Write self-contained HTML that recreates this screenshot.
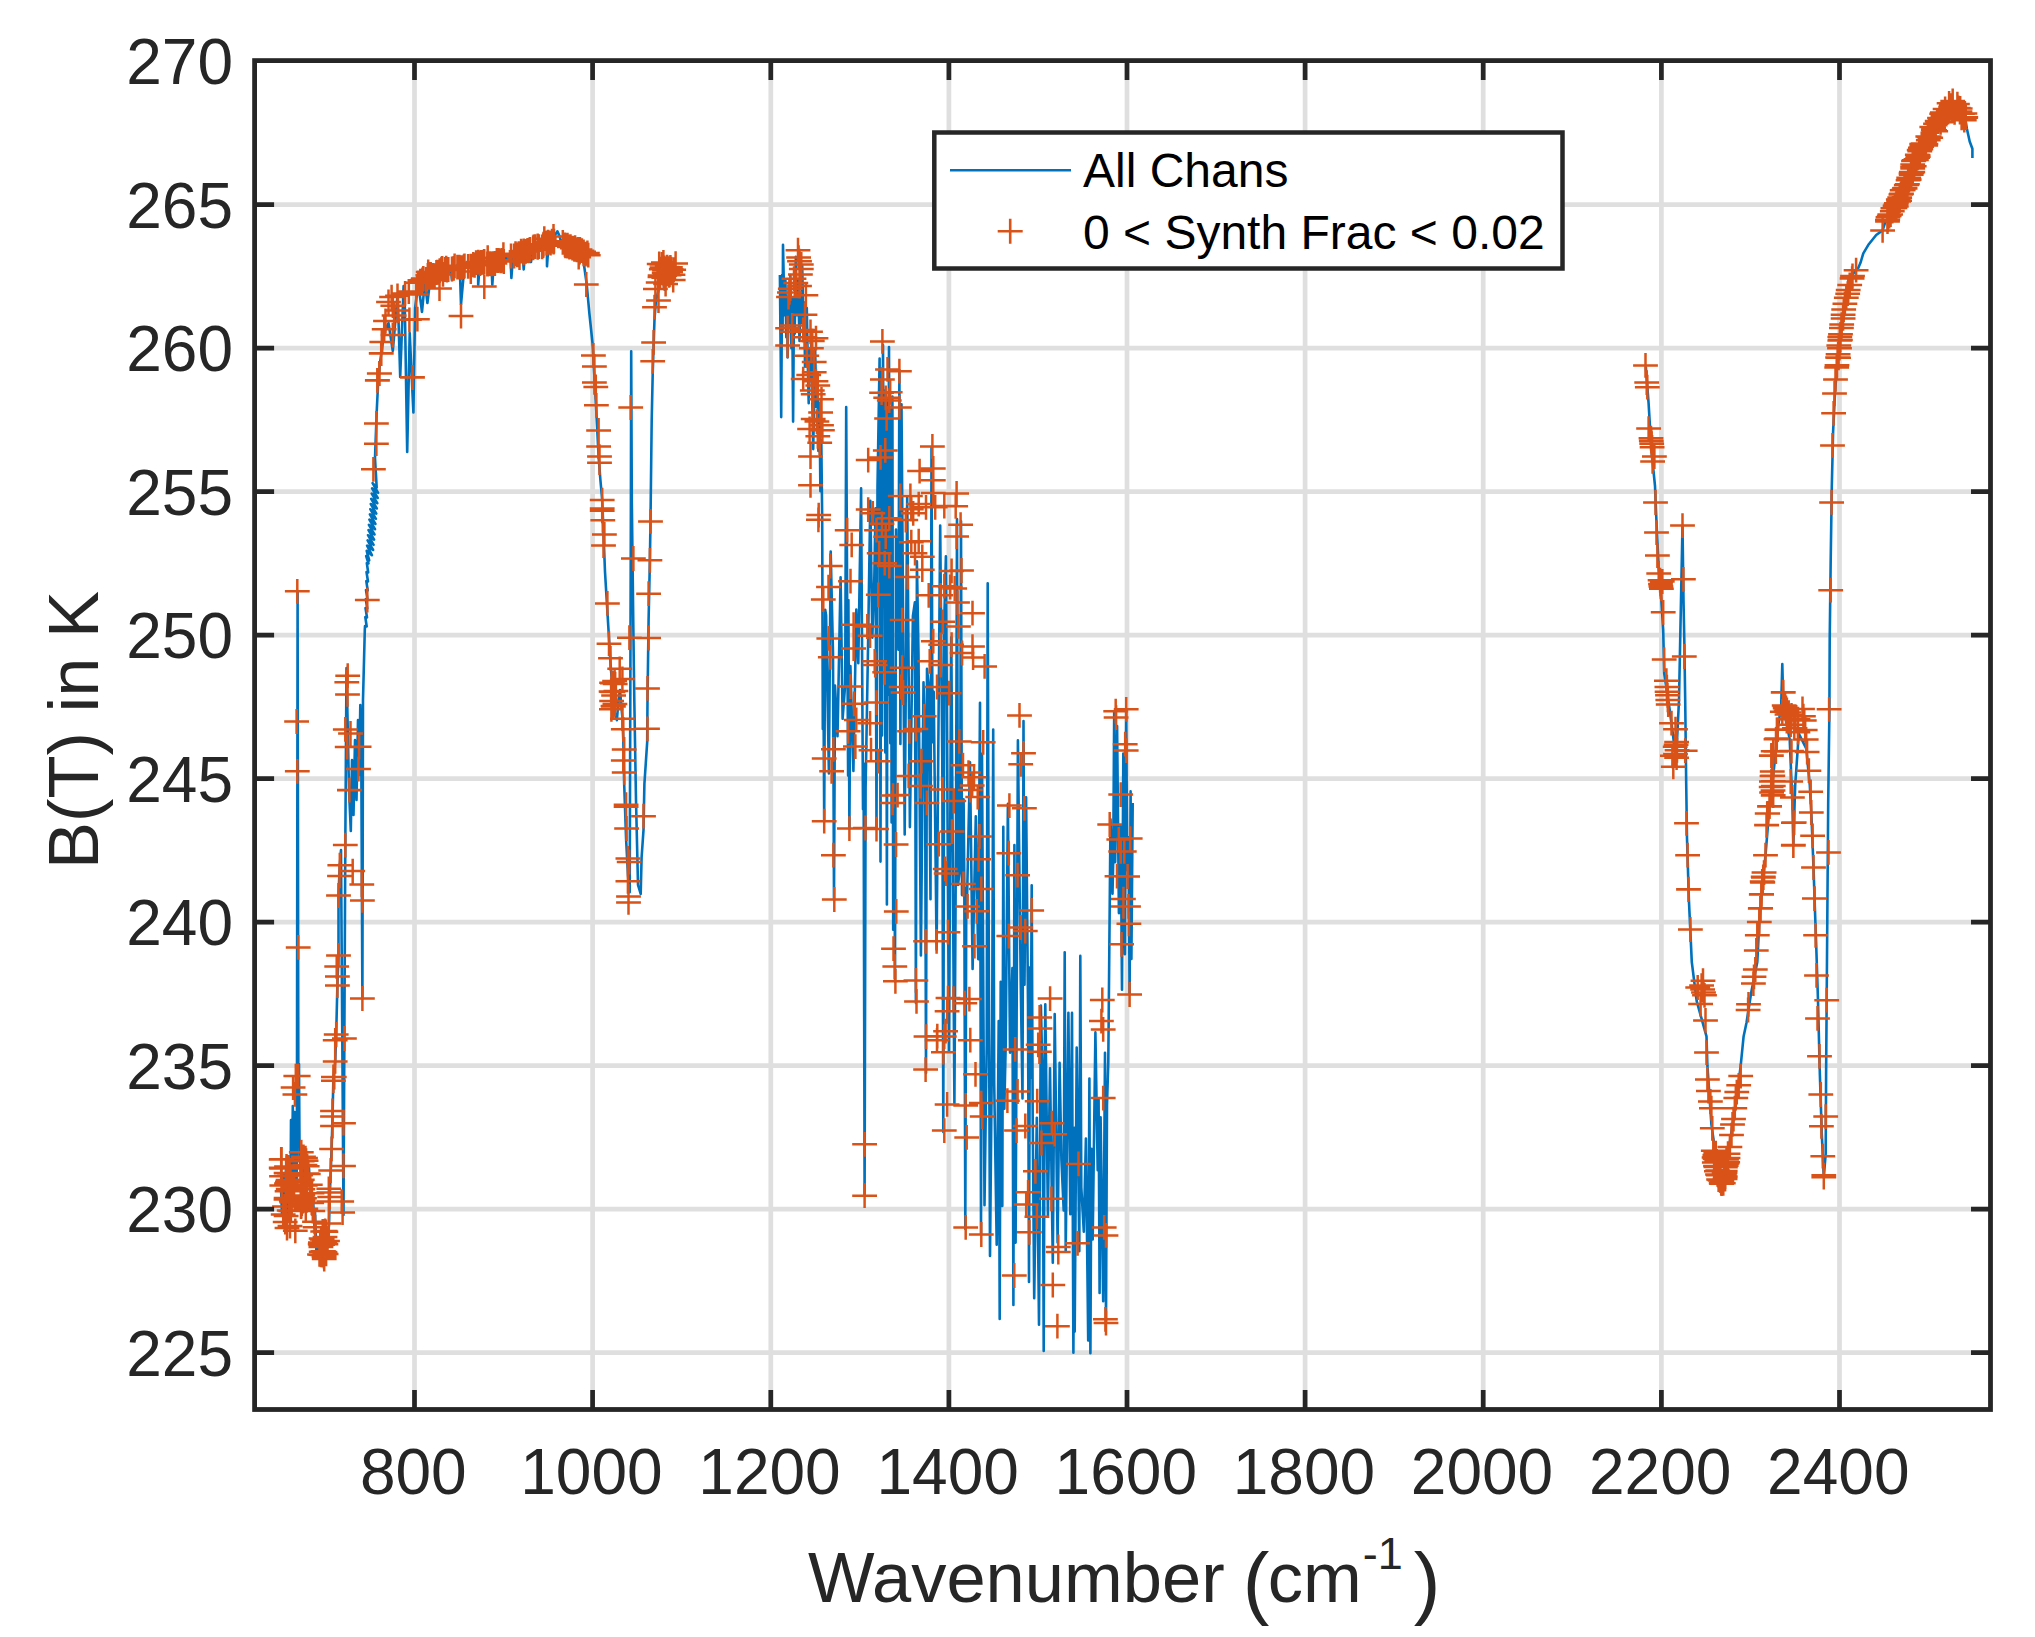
<!DOCTYPE html>
<html><head><meta charset="utf-8"><title>B(T) spectrum</title>
<style>html,body{margin:0;padding:0;background:#fff;overflow:hidden}svg{display:block}</style></head>
<body>
<svg width="2035" height="1637" viewBox="0 0 2035 1637">
<rect width="2035" height="1637" fill="#fff"/>
<path d="M414.5 60.6V1409.5M592.6 60.6V1409.5M770.8 60.6V1409.5M948.9 60.6V1409.5M1127.0 60.6V1409.5M1305.1 60.6V1409.5M1483.2 60.6V1409.5M1661.4 60.6V1409.5M1839.5 60.6V1409.5M254.6 1352.6H1990.5M254.6 1209.1H1990.5M254.6 1065.6H1990.5M254.6 922.1H1990.5M254.6 778.6H1990.5M254.6 635.1H1990.5M254.6 491.6H1990.5M254.6 348.1H1990.5M254.6 204.6H1990.5" stroke="#dfdfdf" stroke-width="4.7" fill="none"/>
<path d="M281.0 1189.0L282.0 1214.0L282.9 1191.9L283.9 1174.8L284.9 1198.4L286.0 1170.0L286.8 1169.8L287.9 1201.8L288.6 1217.1L289.8 1199.7L290.5 1200.0L291.0 1120.0L292.0 1175.0L292.8 1106.0L293.8 1180.0L294.6 1112.0L295.4 1190.0L296.0 1130.0L296.6 1185.0L296.9 1150.0L297.6 591.0L298.4 1120.0L299.0 1064.0L299.6 1160.0L300.3 1162.3L300.9 1184.2L301.5 1164.2L302.2 1154.8L303.0 1179.0L303.9 1183.6L304.8 1182.5L305.7 1180.0L306.4 1211.9L307.0 1157.0L308.5 1185.0L309.0 1168.0L310.5 1200.0L311.0 1182.0L312.5 1215.0L313.0 1198.0L314.5 1228.0L315.0 1212.0L315.8 1234.0L316.5 1254.8L317.7 1241.2L318.6 1240.5L319.4 1252.9L320.4 1255.0L321.4 1257.9L322.6 1233.0L323.5 1256.7L324.6 1258.5L325.6 1234.9L326.7 1253.2L327.6 1235.3L329.0 1225.0L330.0 1190.0L331.6 1149.0L332.5 1118.0L333.4 1078.0L335.2 1061.0L336.2 1034.0L337.4 985.0L338.5 955.0L338.5 895.0L339.8 865.0L341.0 850.0L343.5 1215.0L345.3 845.0L346.5 668.0L349.0 790.0L350.8 831.0L352.0 760.0L353.5 815.0L355.0 740.0L356.5 800.0L358.0 720.0L359.2 775.0L360.3 705.0L361.3 760.0L362.4 998.5L363.0 700.0L364.8 630.0L365.0 626.0L366.7 626.5L365.3 617.0L367.0 617.5L365.5 608.0L367.2 608.5L365.8 599.0L367.5 599.5L366.0 590.0L367.7 590.5L366.3 581.0L368.0 581.5L366.5 572.0L368.2 572.5L366.8 563.0L368.5 563.5L366.2 556.0L369.2 560.4L366.7 550.8L371.9 555.2L367.1 545.6L373.1 550.0L367.6 540.4L373.6 544.8L368.0 535.2L374.1 539.6L368.5 530.0L374.5 534.4L368.9 524.8L375.0 529.2L369.4 519.6L375.4 524.0L369.9 514.4L375.9 518.8L370.3 509.2L376.3 513.6L370.8 504.0L376.8 508.4L371.2 498.8L377.3 503.2L371.7 493.6L377.7 498.0L372.1 488.4L378.1 492.8L372.6 483.2L376.7 487.6L375.0 458.0L376.7 412.0L378.0 385.0L380.0 363.0L383.0 341.0L385.0 330.0L388.5 323.0L392.8 351.0L397.7 293.4L400.2 377.0L403.6 286.0L404.5 286.0L407.2 452.0L409.7 333.0L413.4 412.5L415.1 308.0L418.3 283.5L422.0 312.0L424.9 281.0L427.4 303.0L430.6 276.0L432.0 278.6L434.0 273.2L435.4 272.2L436.7 274.9L437.9 272.7L438.0 272.9L439.5 282.0L441.1 270.8L441.6 268.9L443.5 267.5L445.4 266.7L447.0 266.9L448.5 270.5L450.4 267.8L450.5 266.9L452.0 280.0L453.6 267.3L454.1 265.8L455.7 268.8L457.5 266.7L457.5 264.7L459.7 264.9L461.0 304.4L464.5 265.6L465.0 266.9L466.5 264.2L467.8 263.0L469.6 263.5L471.4 263.9L473.0 266.5L474.7 264.3L476.6 263.7L476.8 262.1L478.1 265.6L478.2 284.8L479.8 263.4L480.3 262.1L481.7 264.4L483.8 261.5L486.0 264.7L487.8 262.2L489.1 260.2L490.7 262.3L491.3 261.0L492.3 284.8L493.9 262.0L494.4 260.7L496.4 262.2L497.9 260.0L499.8 259.2L501.3 261.1L503.3 260.5L504.8 261.5L506.2 256.4L507.7 258.0L508.9 256.1L509.8 257.4L510.5 257.5L511.4 278.0L513.0 256.1L513.5 255.2L515.6 257.5L517.4 255.3L519.2 251.8L520.5 250.7L522.1 252.5L522.6 253.3L523.7 269.4L525.3 251.2L525.8 248.7L527.6 250.3L529.4 249.7L529.6 248.7L531.0 262.0L532.6 248.5L533.1 246.2L534.8 248.9L536.9 248.1L538.8 247.7L541.0 244.7L542.9 246.8L544.9 243.8L545.4 244.1L546.9 245.5L547.0 266.3L548.6 243.2L549.1 243.7L550.7 243.1L552.5 240.1L553.0 243.0L555.0 235.0L557.4 231.3L559.5 236.0L561.0 242.0L561.8 240.5L563.8 241.1L565.4 244.1L565.6 244.1L567.0 245.8L567.0 252.0L568.6 245.5L569.1 246.2L571.2 245.6L572.4 246.4L574.3 246.9L575.7 251.2L577.5 249.9L581.5 255.0L583.9 264.2L586.7 284.0L589.4 313.7L592.5 343.0L595.8 401.6L598.6 456.6L600.4 480.0L602.2 500.0L605.0 571.7L608.3 626.7L610.5 663.3L614.2 711.0L616.9 720.2L618.5 700.0L620.0 690.0L622.4 718.0L623.3 740.0L624.2 784.2L626.1 839.2L628.0 875.0L629.7 892.3L630.3 700.0L630.9 500.0L631.2 351.2L631.8 500.0L633.5 640.0L634.3 700.0L636.0 800.0L638.0 885.0L640.7 894.0L641.6 857.5L643.5 830.0L644.4 784.0L647.2 742.0L647.5 700.0L648.6 620.0L649.9 560.0L650.5 521.0L651.7 420.0L652.7 374.0L654.5 319.0L656.0 300.0L658.2 291.7L660.0 282.0L662.0 275.0L664.6 289.8L666.0 268.0L668.0 275.0L670.0 265.0L672.0 273.0L674.0 267.0L676.0 272.0" fill="none" stroke="#0072BD" stroke-width="2.6" stroke-linejoin="round"/>
<path d="M779.9 275.0L780.6 348.3L780.2 293.3L781.2 417.1L782.1 275.0L782.6 330.0L783.0 244.7L784.5 315.3L785.4 280.5L786.3 337.3L787.0 297.0L787.6 357.5L788.9 289.7L789.6 322.7L790.3 275.0L791.4 348.3L792.2 298.8L793.1 421.6L794.0 298.8L794.7 333.7L795.8 256.7L796.9 315.3L798.0 280.5L799.5 341.0L800.8 293.3L801.5 322.7L802.2 265.8L803.5 330.0L804.3 302.5L805.0 366.7L805.9 322.7L806.8 308.0L807.7 359.3L808.7 403.3L809.9 348.3L810.7 377.7L811.4 337.3L812.3 399.7L813.2 449.1L815.1 348.3L816.4 407.0L817.5 372.2L818.4 451.0L819.5 403.3L820.4 491.3L821.3 440.0L822.2 520.6L822.8 729.1L823.2 641.4L824.2 821.0L825.2 609.8L826.1 615.3L828.9 773.4L830.7 551.5L833.0 652.7L834.0 899.0L835.0 685.6L837.5 736.3L840.6 577.2L842.6 718.8L845.2 684.1L846.2 407.0L847.2 610.1L848.1 775.6L848.4 600.1L849.4 828.6L850.4 666.0L853.4 771.0L856.3 609.6L858.3 663.2L861.1 488.4L863.0 809.3L863.6 763.6L864.6 1196.0L865.6 788.0L868.0 648.7L870.3 500.7L872.3 637.6L874.3 578.5L875.5 508.3L876.5 828.6L877.5 487.1L879.6 358.6L880.5 861.6L881.4 372.1L882.0 735.4L883.0 345.0L884.0 598.8L884.4 390.3L885.3 752.4L885.9 393.0L886.9 904.5L887.7 399.2L888.0 694.6L889.0 347.0L890.0 685.1L890.3 743.3L891.0 407.5L891.6 822.5L892.4 396.6L893.2 929.7L894.0 671.7L895.0 981.6L896.0 529.6L898.4 649.7L899.4 370.0L900.4 743.9L901.5 404.2L904.7 834.5L907.2 497.0L909.9 827.1L912.9 615.9L914.9 602.3L915.9 1003.0L916.9 561.2L918.5 653.9L920.9 955.4L923.5 682.4L925.0 735.5L926.0 1073.0L927.0 668.8L928.6 684.6L930.5 899.3L931.5 447.0L932.5 742.1L933.7 691.7L936.6 949.6L940.2 525.5L942.3 762.8L943.3 1132.0L944.3 619.1L945.9 556.2L949.0 1051.0L951.3 637.2L954.4 1103.3L956.0 830.2L957.0 519.0L958.0 885.0L960.0 867.5L961.0 521.0L962.0 895.1L963.6 799.4L964.3 877.9L965.3 1229.0L966.3 887.7L967.0 900.6L970.0 762.3L972.6 968.9L975.8 816.2L978.2 959.1L980.0 702.8L981.0 1234.6L982.0 753.9L984.5 1205.3L986.7 1045.4L987.7 583.3L988.7 930.1L990.0 1255.9L992.2 1025.4L993.2 729.5L994.2 1082.8L996.7 1244.8L998.7 1021.0L999.7 1319.0L1000.7 981.7L1002.3 1205.9L1003.3 826.7L1004.3 1108.8L1005.7 1045.5L1007.9 803.7L1010.0 1052.6L1012.4 968.0L1013.4 1305.0L1014.4 845.0L1015.6 1242.6L1017.9 740.4L1020.7 980.5L1022.5 1098.4L1023.5 721.0L1024.5 984.7L1026.1 797.2L1028.0 1004.6L1029.0 1282.0L1030.0 967.3L1030.7 1077.8L1031.7 885.3L1032.7 1118.5L1034.2 1298.2L1036.8 1117.7L1039.0 1324.7L1040.9 1005.6L1042.7 1085.5L1043.7 1351.0L1044.7 1064.2L1045.3 1004.2L1047.9 1215.8L1050.0 1068.3L1052.8 1262.7L1054.7 1014.0L1057.6 1242.4L1059.6 1062.9L1061.4 1159.3L1063.7 1210.4L1064.7 952.2L1065.7 1251.1L1068.4 1012.7L1070.3 1214.3L1072.0 1012.9L1072.4 1119.3L1073.4 1352.8L1074.4 1127.9L1074.7 1331.6L1076.7 1047.6L1078.5 1184.0L1079.3 1251.3L1080.3 955.9L1081.3 1187.2L1083.8 1231.6L1085.9 1138.5L1088.2 1340.4L1089.4 1078.6L1090.4 1353.2L1091.4 1148.9L1092.7 1239.5L1095.4 1032.4L1097.7 1170.3L1098.6 1099.4L1099.6 1293.0L1100.6 1117.3L1103.2 1301.2L1105.0 1052.8L1106.0 1321.6L1107.0 1105.2L1108.3 1061.6L1110.5 819.2L1112.5 893.7L1113.2 861.0L1114.2 711.0L1115.2 862.1L1117.1 726.1L1118.9 913.1L1120.7 826.0L1122.0 989.7L1123.3 753.5L1124.9 954.3L1125.2 885.2L1126.2 709.3L1127.2 869.2L1127.6 870.4L1128.6 837.2L1129.6 994.5L1130.6 791.4L1131.4 959.0L1132.7 802.9" fill="none" stroke="#0072BD" stroke-width="2.6" stroke-linejoin="round"/>
<path d="M1645.8 366.7L1648.6 403.3L1651.3 449.2L1655.0 485.8L1656.5 522.5L1658.7 568.3L1661.4 601.3L1663.2 630.0L1664.2 673.3L1669.7 710.0L1673.3 737.5L1676.0 761.3L1679.0 700.0L1681.0 600.0L1682.5 525.6L1683.5 600.0L1684.3 640.0L1685.2 700.0L1686.2 783.3L1687.0 838.3L1688.9 900.0L1691.8 962.1L1696.7 1001.2L1706.5 1036.4L1707.4 1065.7L1711.4 1124.4L1718.2 1173.3L1722.1 1185.0L1728.0 1153.7L1735.8 1104.8L1740.7 1065.7L1743.6 1036.4L1746.5 1022.7L1751.4 991.4L1757.3 962.1L1759.3 922.0L1762.8 882.3L1765.5 855.2L1769.5 806.6L1773.2 775.8L1778.7 722.7L1781.2 705.0L1782.3 664.0L1783.2 700.0L1784.2 711.7L1789.7 739.2L1792.4 803.3L1793.3 845.5L1795.2 785.0L1798.8 733.7L1806.2 748.3L1809.8 785.0L1811.7 821.7L1813.5 867.5L1815.3 920.0L1816.0 938.7L1817.9 997.3L1819.9 1075.5L1821.8 1134.2L1823.8 1177.2L1825.7 1153.7L1826.1 1075.5L1826.7 997.3L1827.3 920.0L1828.2 803.3L1829.4 711.7L1829.7 640.0L1830.7 560.0L1831.8 486.7L1833.1 431.7L1834.9 395.0L1836.7 370.0L1838.6 348.6L1840.4 332.1L1843.2 315.6L1845.9 299.1L1849.6 284.5L1853.2 273.5L1857.8 268.9L1860.6 262.5L1863.3 253.3L1868.8 244.2L1876.2 235.0L1882.6 230.4L1885.3 222.2L1889.0 216.7L1895.4 205.7L1899.1 198.3L1909.2 180.0L1914.7 161.7L1922.9 143.3L1936.7 125.0L1945.8 111.2L1951.3 105.7L1958.7 110.3L1964.2 117.7L1966.0 123.2L1966.9 128.7L1969.7 141.5L1972.4 148.8L1972.4 158.0" fill="none" stroke="#0072BD" stroke-width="2.6" stroke-linejoin="round"/>
<path d="M273.9 1176.1h24.8M286.3 1163.7v24.8M280.3 1188.0h24.8M292.7 1175.6v24.8M278.5 1210.9h24.8M290.9 1198.5v24.8M269.4 1185.6h24.8M281.8 1173.2v24.8M273.7 1172.9h24.8M286.1 1160.5v24.8M274.7 1191.3h24.8M287.1 1178.9v24.8M279.3 1202.3h24.8M291.7 1189.9v24.8M270.8 1214.5h24.8M283.2 1202.1v24.8M275.8 1189.0h24.8M288.2 1176.6v24.8M278.0 1180.0h24.8M290.4 1167.6v24.8M276.8 1197.9h24.8M289.2 1185.5v24.8M279.3 1191.2h24.8M291.7 1178.8v24.8M273.7 1216.1h24.8M286.1 1203.7v24.8M281.7 1189.1h24.8M294.1 1176.7v24.8M276.8 1210.5h24.8M289.2 1198.1v24.8M276.5 1168.1h24.8M288.9 1155.7v24.8M275.0 1181.8h24.8M287.4 1169.4v24.8M272.1 1206.4h24.8M284.5 1194.0v24.8M277.8 1189.2h24.8M290.2 1176.8v24.8M276.3 1167.3h24.8M288.7 1154.9v24.8M277.2 1173.2h24.8M289.6 1160.8v24.8M274.0 1168.4h24.8M286.4 1156.0v24.8M273.7 1198.1h24.8M286.1 1185.7v24.8M273.6 1199.4h24.8M286.0 1187.0v24.8M278.9 1200.9h24.8M291.3 1188.5v24.8M269.1 1176.2h24.8M281.5 1163.8v24.8M274.1 1166.5h24.8M286.5 1154.1v24.8M276.4 1190.1h24.8M288.8 1177.7v24.8M275.7 1179.9h24.8M288.1 1167.5v24.8M274.1 1183.6h24.8M286.5 1171.2v24.8M290.4 1189.3h24.8M302.8 1176.9v24.8M289.0 1197.6h24.8M301.4 1185.2v24.8M288.6 1206.5h24.8M301.0 1194.1v24.8M293.1 1158.1h24.8M305.5 1145.7v24.8M293.7 1160.7h24.8M306.1 1148.3v24.8M289.9 1179.8h24.8M302.3 1167.4v24.8M288.3 1175.2h24.8M300.7 1162.8v24.8M288.3 1186.6h24.8M300.7 1174.2v24.8M293.4 1208.7h24.8M305.8 1196.3v24.8M288.9 1180.4h24.8M301.3 1168.0v24.8M290.4 1195.6h24.8M302.8 1183.2v24.8M290.1 1201.3h24.8M302.5 1188.9v24.8M289.3 1165.6h24.8M301.7 1153.2v24.8M288.9 1206.1h24.8M301.3 1193.7v24.8M294.6 1184.7h24.8M307.0 1172.3v24.8M290.5 1199.7h24.8M302.9 1187.3v24.8M289.4 1203.5h24.8M301.8 1191.1v24.8M294.6 1173.6h24.8M307.0 1161.2v24.8M292.8 1185.5h24.8M305.2 1173.1v24.8M292.1 1198.3h24.8M304.5 1185.9v24.8M290.7 1200.7h24.8M303.1 1188.3v24.8M291.1 1156.8h24.8M303.5 1144.4v24.8M272.8 1222.0h24.8M285.2 1209.6v24.8M277.6 1226.0h24.8M290.0 1213.6v24.8M282.9 1230.8h24.8M295.3 1218.4v24.8M274.6 1228.0h24.8M287.0 1215.6v24.8M269.2 1159.3h24.8M281.6 1146.9v24.8M269.2 1168.5h24.8M281.6 1156.1v24.8M294.8 1166.2h24.8M307.2 1153.8v24.8M295.9 1174.0h24.8M308.3 1161.6v24.8M297.9 1184.7h24.8M310.3 1172.3v24.8M299.6 1193.2h24.8M312.0 1180.8v24.8M299.3 1202.9h24.8M311.7 1190.5v24.8M300.4 1211.1h24.8M312.8 1198.7v24.8M302.1 1221.8h24.8M314.5 1209.4v24.8M302.7 1227.3h24.8M315.1 1214.9v24.8M313.5 1231.8h24.8M325.9 1219.4v24.8M311.8 1259.0h24.8M324.2 1246.6v24.8M313.5 1244.1h24.8M325.9 1231.7v24.8M309.2 1243.6h24.8M321.6 1231.2v24.8M307.8 1243.9h24.8M320.2 1231.5v24.8M310.2 1244.8h24.8M322.6 1232.4v24.8M313.4 1244.2h24.8M325.8 1231.8v24.8M307.1 1254.4h24.8M319.5 1242.0v24.8M308.0 1242.4h24.8M320.4 1230.0v24.8M310.3 1243.2h24.8M322.7 1230.8v24.8M308.2 1244.0h24.8M320.6 1231.6v24.8M315.1 1241.1h24.8M327.5 1228.7v24.8M310.3 1255.0h24.8M322.7 1242.6v24.8M312.4 1252.1h24.8M324.8 1239.7v24.8M312.7 1231.0h24.8M325.1 1218.6v24.8M308.5 1247.0h24.8M320.9 1234.6v24.8M311.8 1256.4h24.8M324.2 1244.0v24.8M311.7 1244.1h24.8M324.1 1231.7v24.8M310.7 1244.3h24.8M323.1 1231.9v24.8M311.2 1251.4h24.8M323.6 1239.0v24.8M309.8 1239.5h24.8M322.2 1227.1v24.8M308.5 1254.8h24.8M320.9 1242.4v24.8M313.7 1253.9h24.8M326.1 1241.5v24.8M312.7 1252.7h24.8M325.1 1240.3v24.8M310.6 1251.3h24.8M323.0 1238.9v24.8M308.1 1244.4h24.8M320.5 1232.0v24.8M308.8 1251.8h24.8M321.2 1239.4v24.8M309.2 1245.1h24.8M321.6 1232.7v24.8M311.6 1256.8h24.8M324.0 1244.4v24.8M308.7 1238.5h24.8M321.1 1226.1v24.8M312.6 1237.1h24.8M325.0 1224.7v24.8M311.7 1241.4h24.8M324.1 1229.0v24.8M310.3 1231.4h24.8M322.7 1219.0v24.8M312.3 1242.0h24.8M324.7 1229.6v24.8M283.4 1076.1h24.8M295.8 1063.7v24.8M280.7 1087.6h24.8M293.1 1075.2v24.8M282.5 1094.4h24.8M294.9 1082.0v24.8M323.8 1034.5h24.8M336.2 1022.1v24.8M332.0 1038.5h24.8M344.4 1026.1v24.8M322.8 1061.4h24.8M335.2 1049.0v24.8M321.0 1077.0h24.8M333.4 1064.6v24.8M321.0 1080.7h24.8M333.4 1068.3v24.8M320.1 1110.9h24.8M332.5 1098.5v24.8M320.1 1116.4h24.8M332.5 1104.0v24.8M331.1 1123.2h24.8M343.5 1110.8v24.8M320.1 1126.1h24.8M332.5 1113.7v24.8M319.2 1148.9h24.8M331.6 1136.5v24.8M331.1 1165.9h24.8M343.5 1153.5v24.8M318.3 1170.5h24.8M330.7 1158.1v24.8M316.4 1188.8h24.8M328.8 1176.4v24.8M316.4 1192.5h24.8M328.8 1180.1v24.8M317.3 1197.1h24.8M329.7 1184.7v24.8M316.4 1201.6h24.8M328.8 1189.2v24.8M330.2 1212.6h24.8M342.6 1200.2v24.8M316.4 1223.6h24.8M328.8 1211.2v24.8M329.3 1201.6h24.8M341.7 1189.2v24.8M268.8 1159.5h24.8M281.2 1147.1v24.8M268.8 1167.7h24.8M281.2 1155.3v24.8M288.9 1152.2h24.8M301.3 1139.8v24.8M289.8 1161.3h24.8M302.2 1148.9v24.8M292.6 1165.0h24.8M305.0 1152.6v24.8M337.0 790.1h24.8M349.4 777.7v24.8M332.9 845.1h24.8M345.3 832.7v24.8M327.4 865.2h24.8M339.8 852.8v24.8M327.1 875.9h24.8M339.5 863.5v24.8M340.3 871.1h24.8M352.7 858.7v24.8M349.4 884.5h24.8M361.8 872.1v24.8M326.1 895.5h24.8M338.5 883.1v24.8M350.0 900.4h24.8M362.4 888.0v24.8M285.8 947.4h24.8M298.2 935.0v24.8M326.1 955.4h24.8M338.5 943.0v24.8M324.3 966.6h24.8M336.7 954.2v24.8M325.0 976.5h24.8M337.4 964.1v24.8M325.0 985.5h24.8M337.4 973.1v24.8M350.0 998.5h24.8M362.4 986.1v24.8M323.8 1034.4h24.8M336.2 1022.0v24.8M332.0 1038.5h24.8M344.4 1026.1v24.8M322.8 1040.3h24.8M335.2 1027.9v24.8M322.8 1061.4h24.8M335.2 1049.0v24.8M285.8 1076.1h24.8M298.2 1063.7v24.8M321.9 1077.0h24.8M334.3 1064.6v24.8M335.3 675.7h24.8M347.7 663.3v24.8M334.4 682.3h24.8M346.8 669.9v24.8M335.1 694.4h24.8M347.5 682.0v24.8M332.9 729.4h24.8M345.3 717.0v24.8M338.1 733.4h24.8M350.5 721.0v24.8M334.8 747.1h24.8M347.2 734.7v24.8M346.7 746.8h24.8M359.1 734.4v24.8M346.1 769.1h24.8M358.5 756.7v24.8M337.0 790.2h24.8M349.4 777.8v24.8M354.9 600.1h24.8M367.3 587.7v24.8M284.9 591.3h24.8M297.3 578.9v24.8M284.2 721.5h24.8M296.6 709.1v24.8M284.9 771.3h24.8M297.3 758.9v24.8M361.0 469.3h24.8M373.4 456.9v24.8M364.0 443.7h24.8M376.4 431.3v24.8M364.0 423.5h24.8M376.4 411.1v24.8M364.9 380.4h24.8M377.3 368.0v24.8M367.1 373.6h24.8M379.5 361.2v24.8M368.9 353.5h24.8M381.3 341.1v24.8M369.8 341.9h24.8M382.2 329.5v24.8M400.1 377.3h24.8M412.5 364.9v24.8M448.6 316.1h24.8M461.0 303.7v24.8M471.9 286.6h24.8M484.3 274.2v24.8M427.1 288.5h24.8M439.5 276.1v24.8M573.9 284.5h24.8M586.3 272.1v24.8M385.1 295.8h24.8M397.5 283.4v24.8M379.2 297.1h24.8M391.6 284.7v24.8M376.1 302.0h24.8M388.5 289.6v24.8M380.4 305.7h24.8M392.8 293.3v24.8M381.7 315.5h24.8M394.1 303.1v24.8M373.1 321.0h24.8M385.5 308.6v24.8M371.8 329.2h24.8M384.2 316.8v24.8M380.4 335.1h24.8M392.8 322.7v24.8M369.4 341.9h24.8M381.8 329.5v24.8M368.8 353.3h24.8M381.2 340.9v24.8M366.9 373.5h24.8M379.3 361.1v24.8M365.1 380.3h24.8M377.5 367.9v24.8M400.1 377.5h24.8M412.5 365.1v24.8M397.0 319.8h24.8M409.4 307.4v24.8M405.0 319.2h24.8M417.4 306.8v24.8M403.8 294.6h24.8M416.2 282.2v24.8M396.4 291.5h24.8M408.8 279.1v24.8M392.7 293.4h24.8M405.1 281.0v24.8M385.3 310.6h24.8M397.7 298.2v24.8M405.8 282.8h24.8M418.2 270.4v24.8M407.9 281.2h24.8M420.3 268.8v24.8M407.9 281.4h24.8M420.3 269.0v24.8M409.2 281.3h24.8M421.6 268.9v24.8M410.0 279.9h24.8M422.4 267.5v24.8M410.9 278.5h24.8M423.3 266.1v24.8M414.0 280.3h24.8M426.4 267.9v24.8M413.7 279.3h24.8M426.1 266.9v24.8M415.9 276.2h24.8M428.3 263.8v24.8M415.4 275.3h24.8M427.8 262.9v24.8M418.2 276.0h24.8M430.6 263.6v24.8M418.3 274.3h24.8M430.7 261.9v24.8M422.2 275.6h24.8M434.6 263.2v24.8M420.7 275.5h24.8M433.1 263.1v24.8M424.0 272.5h24.8M436.4 260.1v24.8M424.8 272.2h24.8M437.2 259.8v24.8M425.3 272.3h24.8M437.7 259.9v24.8M427.3 270.7h24.8M439.7 258.3v24.8M429.0 269.2h24.8M441.4 256.8v24.8M429.8 268.3h24.8M442.2 255.9v24.8M432.7 269.5h24.8M445.1 257.1v24.8M433.8 268.2h24.8M446.2 255.8v24.8M434.6 270.0h24.8M447.0 257.6v24.8M435.9 269.5h24.8M448.3 257.1v24.8M439.6 269.0h24.8M452.0 256.6v24.8M441.3 268.3h24.8M453.7 255.9v24.8M442.2 265.8h24.8M454.6 253.4v24.8M445.0 267.2h24.8M457.4 254.8v24.8M446.9 267.1h24.8M459.3 254.7v24.8M449.2 267.7h24.8M461.6 255.3v24.8M451.5 266.6h24.8M463.9 254.2v24.8M452.1 265.8h24.8M464.5 253.4v24.8M455.7 266.3h24.8M468.1 253.9v24.8M458.4 266.2h24.8M470.8 253.8v24.8M460.9 264.8h24.8M473.3 252.4v24.8M460.9 264.4h24.8M473.3 252.0v24.8M462.2 265.3h24.8M474.6 252.9v24.8M463.7 262.7h24.8M476.1 250.3v24.8M465.9 262.1h24.8M478.3 249.7v24.8M467.7 263.5h24.8M480.1 251.1v24.8M468.6 262.5h24.8M481.0 250.1v24.8M470.6 262.4h24.8M483.0 250.0v24.8M471.6 261.3h24.8M484.0 248.9v24.8M471.9 261.7h24.8M484.3 249.3v24.8M474.9 264.0h24.8M487.3 251.6v24.8M475.7 264.2h24.8M488.1 251.8v24.8M477.5 263.7h24.8M489.9 251.3v24.8M479.1 263.8h24.8M491.5 251.4v24.8M480.4 263.6h24.8M492.8 251.2v24.8M482.5 263.5h24.8M494.9 251.1v24.8M484.4 260.4h24.8M496.8 248.0v24.8M485.3 260.6h24.8M497.7 248.2v24.8M486.1 260.3h24.8M498.5 247.9v24.8M488.4 260.9h24.8M500.8 248.5v24.8M489.4 260.4h24.8M501.8 248.0v24.8M491.4 261.5h24.8M503.8 249.1v24.8M498.6 256.0h24.8M511.0 243.6v24.8M501.7 256.0h24.8M514.1 243.6v24.8M503.1 253.7h24.8M515.5 241.3v24.8M504.7 254.8h24.8M517.1 242.4v24.8M506.3 253.7h24.8M518.7 241.3v24.8M507.0 254.3h24.8M519.4 241.9v24.8M508.7 251.2h24.8M521.1 238.8v24.8M511.2 252.9h24.8M523.6 240.5v24.8M511.4 250.9h24.8M523.8 238.5v24.8M513.5 251.4h24.8M525.9 239.0v24.8M515.1 250.5h24.8M527.5 238.1v24.8M517.3 249.7h24.8M529.7 237.3v24.8M516.6 250.8h24.8M529.0 238.4v24.8M517.6 249.4h24.8M530.0 237.0v24.8M520.7 247.8h24.8M533.1 235.4v24.8M521.3 246.8h24.8M533.7 234.4v24.8M522.6 246.7h24.8M535.0 234.3v24.8M525.3 246.0h24.8M537.7 233.6v24.8M525.3 247.3h24.8M537.7 234.9v24.8M526.5 246.6h24.8M538.9 234.2v24.8M529.8 246.8h24.8M542.2 234.4v24.8M530.8 245.7h24.8M543.2 233.3v24.8M531.1 244.2h24.8M543.5 231.8v24.8M534.6 243.0h24.8M547.0 230.6v24.8M534.2 243.2h24.8M546.6 230.8v24.8M535.7 242.2h24.8M548.1 229.8v24.8M538.2 243.0h24.8M550.6 230.6v24.8M539.6 241.2h24.8M552.0 228.8v24.8M541.6 241.2h24.8M554.0 228.8v24.8M541.2 242.0h24.8M553.6 229.6v24.8M550.4 242.3h24.8M562.8 229.9v24.8M552.5 244.8h24.8M564.9 232.4v24.8M553.0 245.8h24.8M565.4 233.4v24.8M555.1 245.1h24.8M567.5 232.7v24.8M557.0 247.0h24.8M569.4 234.6v24.8M558.1 246.6h24.8M570.5 234.2v24.8M560.0 248.2h24.8M572.4 235.8v24.8M561.7 248.3h24.8M574.1 235.9v24.8M562.0 249.3h24.8M574.4 236.9v24.8M562.7 247.7h24.8M575.1 235.3v24.8M565.6 249.4h24.8M578.0 237.0v24.8M564.5 249.9h24.8M576.9 237.5v24.8M567.6 249.4h24.8M580.0 237.0v24.8M567.3 252.0h24.8M579.7 239.6v24.8M569.5 250.7h24.8M581.9 238.3v24.8M571.3 253.9h24.8M583.7 241.5v24.8M571.2 251.8h24.8M583.6 239.4v24.8M573.1 254.1h24.8M585.5 241.7v24.8M575.0 253.0h24.8M587.4 240.6v24.8M575.9 255.2h24.8M588.3 242.8v24.8M491.0 254.7h24.8M503.4 242.3v24.8M415.8 271.9h24.8M428.2 259.5v24.8M430.6 274.4h24.8M443.0 262.0v24.8M458.4 271.5h24.8M470.8 259.1v24.8M475.3 257.7h24.8M487.7 245.3v24.8M507.1 257.6h24.8M519.5 245.2v24.8M531.9 238.7h24.8M544.3 226.3v24.8M541.1 236.4h24.8M553.5 224.0v24.8M566.3 257.2h24.8M578.7 244.8v24.8M581.0 355.5h24.8M593.4 343.1v24.8M582.0 366.5h24.8M594.4 354.1v24.8M582.0 382.4h24.8M594.4 370.0v24.8M583.4 387.0h24.8M595.8 374.6v24.8M584.0 405.3h24.8M596.4 392.9v24.8M586.2 430.4h24.8M598.6 418.0v24.8M586.2 446.6h24.8M598.6 434.2v24.8M587.1 456.6h24.8M599.5 444.2v24.8M587.1 462.7h24.8M599.5 450.3v24.8M589.8 500.1h24.8M602.2 487.7v24.8M618.3 407.5h24.8M630.7 395.1v24.8M640.3 361.3h24.8M652.7 348.9v24.8M641.2 342.4h24.8M653.6 330.0v24.8M642.1 307.2h24.8M654.5 294.8v24.8M646.1 300.5h24.8M658.5 288.1v24.8M643.0 288.9h24.8M655.4 276.5v24.8M663.2 263.6h24.8M675.6 251.2v24.8M661.3 269.7h24.8M673.7 257.3v24.8M660.8 280.1h24.8M673.2 267.7v24.8M647.6 277.0h24.8M660.0 264.6v24.8M645.8 282.5h24.8M658.2 270.1v24.8M655.1 273.9h24.8M667.5 261.5v24.8M658.0 267.3h24.8M670.4 254.9v24.8M652.6 273.1h24.8M665.0 260.7v24.8M658.6 269.8h24.8M671.0 257.4v24.8M649.6 264.5h24.8M662.0 252.1v24.8M648.9 269.2h24.8M661.3 256.8v24.8M658.7 269.2h24.8M671.1 256.8v24.8M647.7 275.4h24.8M660.1 263.0v24.8M651.0 262.5h24.8M663.4 250.1v24.8M651.8 272.8h24.8M664.2 260.4v24.8M656.6 275.3h24.8M669.0 262.9v24.8M653.3 274.4h24.8M665.7 262.0v24.8M660.6 274.8h24.8M673.0 262.4v24.8M646.8 264.0h24.8M659.2 251.6v24.8M652.1 270.0h24.8M664.5 257.6v24.8M654.8 267.1h24.8M667.2 254.7v24.8M653.2 284.0h24.8M665.6 271.6v24.8M658.2 272.1h24.8M670.6 259.7v24.8M649.6 267.6h24.8M662.0 255.2v24.8M652.1 268.0h24.8M664.5 255.6v24.8M654.4 269.5h24.8M666.8 257.1v24.8M652.3 275.8h24.8M664.7 263.4v24.8M656.3 270.9h24.8M668.7 258.5v24.8M657.2 274.7h24.8M669.6 262.3v24.8M651.4 277.7h24.8M663.8 265.3v24.8M657.1 268.6h24.8M669.5 256.2v24.8M589.8 508.4h24.8M602.2 496.0v24.8M589.8 510.8h24.8M602.2 498.4v24.8M590.4 520.3h24.8M602.8 507.9v24.8M592.0 534.4h24.8M604.4 522.0v24.8M591.1 545.6h24.8M603.5 533.2v24.8M595.0 603.4h24.8M607.4 591.0v24.8M621.0 558.5h24.8M633.4 546.1v24.8M637.5 560.3h24.8M649.9 547.9v24.8M638.1 521.4h24.8M650.5 509.0v24.8M636.2 593.7h24.8M648.6 581.3v24.8M596.6 643.7h24.8M609.0 631.3v24.8M617.0 637.7h24.8M629.4 625.3v24.8M636.2 638.0h24.8M648.6 625.6v24.8M598.1 658.2h24.8M610.5 645.8v24.8M607.3 668.8h24.8M619.7 656.4v24.8M610.0 678.9h24.8M622.4 666.5v24.8M610.0 718.7h24.8M622.4 706.3v24.8M610.9 729.3h24.8M623.3 716.9v24.8M635.1 688.4h24.8M647.5 676.0v24.8M635.1 728.8h24.8M647.5 716.4v24.8M611.8 749.5h24.8M624.2 737.1v24.8M610.9 760.5h24.8M623.3 748.1v24.8M611.8 772.4h24.8M624.2 760.0v24.8M600.6 706.1h24.8M613.0 693.7v24.8M599.2 682.8h24.8M611.6 670.4v24.8M599.2 701.0h24.8M611.6 688.6v24.8M602.8 684.1h24.8M615.2 671.7v24.8M601.0 706.5h24.8M613.4 694.1v24.8M602.2 681.1h24.8M614.6 668.7v24.8M600.0 683.3h24.8M612.4 670.9v24.8M599.3 691.8h24.8M611.7 679.4v24.8M599.0 709.3h24.8M611.4 696.9v24.8M601.2 695.4h24.8M613.6 683.0v24.8M602.5 704.1h24.8M614.9 691.7v24.8M603.5 691.1h24.8M615.9 678.7v24.8M600.6 692.0h24.8M613.0 679.6v24.8M598.7 691.6h24.8M611.1 679.2v24.8M613.7 804.7h24.8M626.1 792.3v24.8M613.7 806.7h24.8M626.1 794.3v24.8M631.1 816.2h24.8M643.5 803.8v24.8M614.2 828.5h24.8M626.6 816.1v24.8M615.5 858.4h24.8M627.9 846.0v24.8M616.8 862.1h24.8M629.2 849.7v24.8M615.5 881.3h24.8M627.9 868.9v24.8M616.1 896.5h24.8M628.5 884.1v24.8M616.1 902.4h24.8M628.5 890.0v24.8M785.6 250.2h24.8M798.0 237.8v24.8M786.2 257.6h24.8M798.6 245.2v24.8M788.9 264.5h24.8M801.3 252.1v24.8M788.9 268.9h24.8M801.3 256.5v24.8M788.0 274.4h24.8M800.4 262.0v24.8M783.4 282.9h24.8M795.8 270.5v24.8M777.9 288.7h24.8M790.3 276.3v24.8M777.0 292.4h24.8M789.4 280.0v24.8M776.1 297.0h24.8M788.5 284.6v24.8M793.5 295.2h24.8M805.9 282.8v24.8M792.6 314.8h24.8M805.0 302.4v24.8M779.8 325.4h24.8M792.2 313.0v24.8M775.2 328.2h24.8M787.6 315.8v24.8M790.8 330.0h24.8M803.2 317.6v24.8M798.1 331.8h24.8M810.5 319.4v24.8M803.6 338.2h24.8M816.0 325.8v24.8M775.2 345.6h24.8M787.6 333.2v24.8M794.4 355.7h24.8M806.8 343.3v24.8M801.8 362.1h24.8M814.2 349.7v24.8M796.3 374.9h24.8M808.7 362.5v24.8M790.8 379.1h24.8M803.2 366.7v24.8M803.6 381.3h24.8M816.0 368.9v24.8M805.4 385.5h24.8M817.8 373.1v24.8M799.9 390.5h24.8M812.3 378.1v24.8M800.8 394.2h24.8M813.2 381.8v24.8M809.1 399.3h24.8M821.5 386.9v24.8M808.2 412.5h24.8M820.6 400.1v24.8M800.8 418.9h24.8M813.2 406.5v24.8M809.1 425.3h24.8M821.5 412.9v24.8M797.2 429.0h24.8M809.6 416.6v24.8M810.0 430.3h24.8M822.4 417.9v24.8M807.3 442.7h24.8M819.7 430.3v24.8M798.1 456.5h24.8M810.5 444.1v24.8M798.1 485.3h24.8M810.5 472.9v24.8M806.3 515.1h24.8M818.7 502.7v24.8M870.0 341.4h24.8M882.4 329.0v24.8M875.1 369.4h24.8M887.5 357.0v24.8M887.0 371.2h24.8M899.4 358.8v24.8M870.0 379.5h24.8M882.4 367.1v24.8M877.8 392.3h24.8M890.2 379.9v24.8M869.2 392.7h24.8M881.6 380.3v24.8M873.3 397.8h24.8M885.7 385.4v24.8M876.9 400.6h24.8M889.3 388.2v24.8M887.0 407.4h24.8M899.4 395.0v24.8M874.2 418.4h24.8M886.6 406.0v24.8M872.9 450.4h24.8M885.3 438.0v24.8M868.1 457.4h24.8M880.5 445.0v24.8M855.8 460.1h24.8M868.2 447.7v24.8M920.0 446.4h24.8M932.4 434.0v24.8M907.2 471.1h24.8M919.6 458.7v24.8M920.9 468.4h24.8M933.3 456.0v24.8M920.9 480.3h24.8M933.3 467.9v24.8M898.0 495.9h24.8M910.4 483.5v24.8M887.9 495.9h24.8M900.3 483.5v24.8M920.9 493.1h24.8M933.3 480.7v24.8M906.3 504.1h24.8M918.7 491.7v24.8M855.8 509.6h24.8M868.2 497.2v24.8M860.4 513.3h24.8M872.8 500.9v24.8M931.9 506.0h24.8M944.3 493.6v24.8M893.4 520.1h24.8M905.8 507.7v24.8M900.8 513.3h24.8M913.2 500.9v24.8M787.1 261.2h24.8M799.5 248.8v24.8M781.6 278.7h24.8M794.0 266.3v24.8M787.1 286.0h24.8M799.5 273.6v24.8M779.8 331.8h24.8M792.2 319.4v24.8M792.6 337.3h24.8M805.0 324.9v24.8M799.9 341.0h24.8M812.3 328.6v24.8M799.0 348.3h24.8M811.4 335.9v24.8M801.8 372.2h24.8M814.2 359.8v24.8M804.5 421.6h24.8M816.9 409.2v24.8M805.4 436.3h24.8M817.8 423.9v24.8M806.0 519.8h24.8M818.4 507.4v24.8M834.8 530.2h24.8M847.2 517.8v24.8M839.3 544.9h24.8M851.7 532.5v24.8M817.9 566.0h24.8M830.3 553.6v24.8M838.1 581.2h24.8M850.5 568.8v24.8M816.1 587.1h24.8M828.5 574.7v24.8M810.9 599.5h24.8M823.3 587.1v24.8M864.1 530.2h24.8M876.5 517.8v24.8M869.6 523.8h24.8M882.0 511.4v24.8M876.9 518.3h24.8M889.3 505.9v24.8M873.3 536.7h24.8M885.7 524.3v24.8M866.8 553.2h24.8M879.2 540.8v24.8M872.3 563.2h24.8M884.7 550.8v24.8M876.9 566.0h24.8M889.3 553.6v24.8M865.9 594.8h24.8M878.3 582.4v24.8M898.9 509.2h24.8M911.3 496.8v24.8M913.6 507.3h24.8M926.0 494.9v24.8M922.8 507.3h24.8M935.2 494.9v24.8M898.9 542.2h24.8M911.3 529.8v24.8M906.3 541.2h24.8M918.7 528.8v24.8M902.6 553.2h24.8M915.0 540.8v24.8M909.9 556.8h24.8M922.3 544.4v24.8M895.3 577.0h24.8M907.7 564.6v24.8M909.9 569.7h24.8M922.3 557.3v24.8M916.3 595.3h24.8M928.7 582.9v24.8M928.3 595.3h24.8M940.7 582.9v24.8M931.9 586.2h24.8M944.3 573.8v24.8M889.8 620.1h24.8M902.2 607.7v24.8M841.2 624.7h24.8M853.6 612.3v24.8M854.9 626.5h24.8M867.3 614.1v24.8M857.7 635.7h24.8M870.1 623.3v24.8M816.4 638.4h24.8M828.8 626.0v24.8M841.2 648.5h24.8M853.6 636.1v24.8M817.9 657.3h24.8M830.3 644.9v24.8M862.3 661.3h24.8M874.7 648.9v24.8M862.8 665.0h24.8M875.2 652.6v24.8M872.3 672.3h24.8M884.7 659.9v24.8M889.8 667.7h24.8M902.2 655.3v24.8M888.8 687.0h24.8M901.2 674.6v24.8M890.7 692.5h24.8M903.1 680.1v24.8M838.1 686.6h24.8M850.5 674.2v24.8M841.7 703.8h24.8M854.1 691.4v24.8M864.1 702.6h24.8M876.5 690.2v24.8M920.9 641.2h24.8M933.3 628.8v24.8M928.3 644.8h24.8M940.7 632.4v24.8M917.3 661.3h24.8M929.7 648.9v24.8M928.3 665.0h24.8M940.7 652.6v24.8M924.6 687.0h24.8M937.0 674.6v24.8M843.9 720.0h24.8M856.3 707.6v24.8M857.7 723.3h24.8M870.1 710.9v24.8M835.7 731.3h24.8M848.1 718.9v24.8M911.8 716.3h24.8M924.2 703.9v24.8M903.5 729.1h24.8M915.9 716.7v24.8M897.1 731.3h24.8M909.5 718.9v24.8M843.0 746.6h24.8M855.4 734.2v24.8M821.0 749.3h24.8M833.4 736.9v24.8M858.6 750.2h24.8M871.0 737.8v24.8M811.8 758.5h24.8M824.2 746.1v24.8M865.9 761.2h24.8M878.3 748.8v24.8M909.0 761.2h24.8M921.4 748.8v24.8M819.2 771.3h24.8M831.6 758.9v24.8M896.2 775.9h24.8M908.6 763.5v24.8M908.1 786.0h24.8M920.5 773.6v24.8M930.1 789.6h24.8M942.5 777.2v24.8M885.2 795.1h24.8M897.6 782.7v24.8M811.8 821.2h24.8M824.2 808.8v24.8M821.0 855.2h24.8M833.4 842.8v24.8M821.9 899.5h24.8M834.3 887.1v24.8M837.0 828.6h24.8M849.4 816.2v24.8M853.1 828.0h24.8M865.5 815.6v24.8M864.1 829.1h24.8M876.5 816.7v24.8M880.6 795.6h24.8M893.0 783.2v24.8M880.2 802.9h24.8M892.6 790.5v24.8M883.7 844.5h24.8M896.1 832.1v24.8M883.9 911.4h24.8M896.3 899.0v24.8M881.1 948.7h24.8M893.5 936.3v24.8M882.4 966.6h24.8M894.8 954.2v24.8M883.0 981.3h24.8M895.4 968.9v24.8M903.5 980.4h24.8M915.9 968.0v24.8M904.1 1001.4h24.8M916.5 989.0v24.8M913.2 941.3h24.8M925.6 928.9v24.8M924.2 941.3h24.8M936.6 928.9v24.8M914.5 802.9h24.8M926.9 790.5v24.8M926.4 844.2h24.8M938.8 831.8v24.8M932.8 868.9h24.8M945.2 856.5v24.8M933.8 873.5h24.8M946.2 861.1v24.8M935.6 932.2h24.8M948.0 919.8v24.8M935.6 998.1h24.8M948.0 985.7v24.8M934.7 1011.3h24.8M947.1 998.9v24.8M913.6 1036.6h24.8M926.0 1024.2v24.8M924.6 1040.3h24.8M937.0 1027.9v24.8M931.0 1052.2h24.8M943.4 1039.8v24.8M931.9 1036.6h24.8M944.3 1024.2v24.8M913.2 1069.6h24.8M925.6 1057.2v24.8M852.2 1144.3h24.8M864.6 1131.9v24.8M852.2 1195.7h24.8M864.6 1183.3v24.8M934.7 1104.4h24.8M947.1 1092.0v24.8M931.9 1130.6h24.8M944.3 1118.2v24.8M944.2 493.5h24.8M956.6 481.1v24.8M943.3 506.3h24.8M955.7 493.9v24.8M948.2 524.7h24.8M960.6 512.3v24.8M944.2 536.6h24.8M956.6 524.2v24.8M949.1 570.5h24.8M961.5 558.1v24.8M939.2 570.9h24.8M951.6 558.5v24.8M942.3 588.5h24.8M954.7 576.1v24.8M937.8 587.0h24.8M950.2 574.6v24.8M945.1 602.6h24.8M957.5 590.2v24.8M960.1 613.2h24.8M972.5 600.8v24.8M930.4 621.8h24.8M942.8 609.4v24.8M946.0 626.4h24.8M958.4 614.0v24.8M960.1 646.6h24.8M972.5 634.2v24.8M939.2 644.7h24.8M951.6 632.3v24.8M949.7 653.0h24.8M962.1 640.6v24.8M960.7 657.6h24.8M973.1 645.2v24.8M972.2 666.4h24.8M984.6 654.0v24.8M936.8 693.2h24.8M949.2 680.8v24.8M946.9 741.4h24.8M959.3 729.0v24.8M970.8 742.3h24.8M983.2 729.9v24.8M1007.1 715.4h24.8M1019.5 703.0v24.8M1011.1 753.3h24.8M1023.5 740.9v24.8M1008.3 764.3h24.8M1020.7 751.9v24.8M950.6 765.2h24.8M963.0 752.8v24.8M956.1 772.6h24.8M968.5 760.2v24.8M961.6 777.2h24.8M974.0 764.8v24.8M959.8 785.4h24.8M972.2 773.0v24.8M957.9 790.0h24.8M970.3 777.6v24.8M965.3 797.0h24.8M977.7 784.6v24.8M941.4 801.0h24.8M953.8 788.6v24.8M997.0 805.6h24.8M1009.4 793.2v24.8M1012.0 808.3h24.8M1024.4 795.9v24.8M939.6 831.6h24.8M952.0 819.2v24.8M967.1 836.4h24.8M979.5 824.0v24.8M996.4 853.2h24.8M1008.8 840.8v24.8M966.2 859.3h24.8M978.6 846.9v24.8M1005.2 875.2h24.8M1017.6 862.8v24.8M951.0 884.0h24.8M963.4 871.6v24.8M968.9 889.0h24.8M981.3 876.6v24.8M955.2 906.4h24.8M967.6 894.0v24.8M964.3 911.3h24.8M976.7 898.9v24.8M1019.3 910.4h24.8M1031.7 898.0v24.8M1008.3 927.5h24.8M1020.7 915.1v24.8M1012.9 931.1h24.8M1025.3 918.7v24.8M996.4 936.1h24.8M1008.8 923.7v24.8M962.1 946.2h24.8M974.5 933.8v24.8M1103.3 711.2h24.8M1115.7 698.8v24.8M1113.8 709.3h24.8M1126.2 696.9v24.8M1103.7 717.6h24.8M1116.1 705.2v24.8M1112.8 744.2h24.8M1125.2 731.8v24.8M1113.8 750.6h24.8M1126.2 738.2v24.8M1108.3 794.6h24.8M1120.7 782.2v24.8M1097.3 824.5h24.8M1109.7 812.1v24.8M1106.4 839.5h24.8M1118.8 827.1v24.8M1108.3 851.4h24.8M1120.7 839.0v24.8M1111.9 851.4h24.8M1124.3 839.0v24.8M1104.6 876.2h24.8M1117.0 863.8v24.8M1111.0 899.1h24.8M1123.4 886.7v24.8M1111.0 906.4h24.8M1123.4 894.0v24.8M1116.5 923.8h24.8M1128.9 911.4v24.8M1109.2 944.3h24.8M1121.6 931.9v24.8M941.1 998.6h24.8M953.5 986.2v24.8M952.4 1003.2h24.8M964.8 990.8v24.8M957.0 999.1h24.8M969.4 986.7v24.8M933.2 1031.2h24.8M945.6 1018.8v24.8M924.9 1036.2h24.8M937.3 1023.8v24.8M957.9 1040.2h24.8M970.3 1027.8v24.8M963.1 1074.3h24.8M975.5 1061.9v24.8M953.3 1105.5h24.8M965.7 1093.1v24.8M968.9 1103.1h24.8M981.3 1090.7v24.8M969.8 1116.5h24.8M982.2 1104.1v24.8M954.3 1137.4h24.8M966.7 1125.0v24.8M1002.8 1049.4h24.8M1015.2 1037.0v24.8M1027.2 1017.5h24.8M1039.6 1005.1v24.8M1027.6 1028.5h24.8M1040.0 1016.1v24.8M1025.8 1044.8h24.8M1038.2 1032.4v24.8M1027.0 1051.7h24.8M1039.4 1039.3v24.8M1037.7 998.6h24.8M1050.1 986.2v24.8M1005.2 1091.5h24.8M1017.6 1079.1v24.8M995.0 1100.7h24.8M1007.4 1088.3v24.8M1024.8 1101.2h24.8M1037.2 1088.8v24.8M1012.9 1126.0h24.8M1025.3 1113.6v24.8M1004.1 1130.6h24.8M1016.5 1118.2v24.8M1039.5 1123.2h24.8M1051.9 1110.8v24.8M1042.3 1134.2h24.8M1054.7 1121.8v24.8M1029.1 1143.0h24.8M1041.5 1130.6v24.8M1023.0 1171.3h24.8M1035.4 1158.9v24.8M1066.1 1163.9h24.8M1078.5 1151.5v24.8M1015.7 1192.3h24.8M1028.1 1179.9v24.8M1039.0 1198.8h24.8M1051.4 1186.4v24.8M1013.8 1204.4h24.8M1026.2 1192.0v24.8M1024.5 1216.7h24.8M1036.9 1204.3v24.8M1017.0 1232.3h24.8M1029.4 1219.9v24.8M953.3 1227.4h24.8M965.7 1215.0v24.8M968.9 1234.5h24.8M981.3 1222.1v24.8M1089.9 1000.0h24.8M1102.3 987.6v24.8M1089.0 1021.1h24.8M1101.4 1008.7v24.8M1090.8 1029.4h24.8M1103.2 1017.0v24.8M1090.8 1098.1h24.8M1103.2 1085.7v24.8M1117.2 994.5h24.8M1129.6 982.1v24.8M1091.8 1227.4h24.8M1104.2 1215.0v24.8M1093.6 1235.4h24.8M1106.0 1223.0v24.8M1065.2 1243.3h24.8M1077.6 1230.9v24.8M1045.9 1247.0h24.8M1058.3 1234.6v24.8M1045.9 1252.0h24.8M1058.3 1239.6v24.8M1001.9 1275.5h24.8M1014.3 1263.1v24.8M1040.4 1285.0h24.8M1052.8 1272.6v24.8M1045.0 1326.2h24.8M1057.4 1313.8v24.8M1093.0 1319.3h24.8M1105.4 1306.9v24.8M1093.6 1323.1h24.8M1106.0 1310.7v24.8M1116.1 906.4h24.8M1128.5 894.0v24.8M1117.8 838.6h24.8M1130.2 826.2v24.8M1115.2 876.5h24.8M1127.6 864.1v24.8M1633.1 365.4h24.8M1645.5 353.0v24.8M1634.3 382.6h24.8M1646.7 370.2v24.8M1634.9 387.2h24.8M1647.3 374.8v24.8M1636.2 428.6h24.8M1648.6 416.2v24.8M1638.6 438.2h24.8M1651.0 425.8v24.8M1638.9 440.9h24.8M1651.3 428.5v24.8M1639.3 443.7h24.8M1651.7 431.3v24.8M1639.7 447.3h24.8M1652.1 434.9v24.8M1642.0 456.5h24.8M1654.4 444.1v24.8M1640.2 461.4h24.8M1652.6 449.0v24.8M1643.1 502.5h24.8M1655.5 490.1v24.8M1644.1 532.6h24.8M1656.5 520.2v24.8M1645.0 555.5h24.8M1657.4 543.1v24.8M1646.3 573.4h24.8M1658.7 561.0v24.8M1647.7 580.2h24.8M1660.1 567.8v24.8M1648.1 583.9h24.8M1660.5 571.5v24.8M1648.5 586.6h24.8M1660.9 574.2v24.8M1649.0 588.8h24.8M1661.4 576.4v24.8M1649.9 581.5h24.8M1662.3 569.1v24.8M1671.0 579.3h24.8M1683.4 566.9v24.8M1670.1 525.6h24.8M1682.5 513.2v24.8M1650.8 612.3h24.8M1663.2 599.9v24.8M1651.8 659.6h24.8M1664.2 647.2v24.8M1671.9 656.5h24.8M1684.3 644.1v24.8M1654.5 687.1h24.8M1666.9 674.7v24.8M1654.0 680.7h24.8M1666.4 668.3v24.8M1654.7 691.7h24.8M1667.1 679.3v24.8M1655.1 695.3h24.8M1667.5 682.9v24.8M1655.4 699.9h24.8M1667.8 687.5v24.8M1655.8 704.5h24.8M1668.2 692.1v24.8M1659.1 723.2h24.8M1671.5 710.8v24.8M1663.1 729.2h24.8M1675.5 716.8v24.8M1664.2 742.1h24.8M1676.6 729.7v24.8M1662.8 746.7h24.8M1675.2 734.3v24.8M1664.6 750.3h24.8M1677.0 737.9v24.8M1663.7 744.8h24.8M1676.1 732.4v24.8M1663.1 754.0h24.8M1675.5 741.6v24.8M1664.2 757.7h24.8M1676.6 745.3v24.8M1672.8 750.7h24.8M1685.2 738.3v24.8M1660.0 755.8h24.8M1672.4 743.4v24.8M1660.9 766.8h24.8M1673.3 754.4v24.8M1674.1 823.3h24.8M1686.5 810.9v24.8M1675.2 855.2h24.8M1687.6 842.8v24.8M1676.1 889.6h24.8M1688.5 877.2v24.8M1770.9 692.2h24.8M1783.3 679.8v24.8M1772.8 708.2h24.8M1785.2 695.8v24.8M1771.8 705.4h24.8M1784.2 693.0v24.8M1773.7 710.9h24.8M1786.1 698.5v24.8M1774.6 714.6h24.8M1787.0 702.2v24.8M1776.4 719.2h24.8M1788.8 706.8v24.8M1778.3 724.7h24.8M1790.7 712.3v24.8M1764.5 729.8h24.8M1776.9 717.4v24.8M1763.6 739.3h24.8M1776.0 726.9v24.8M1759.0 755.5h24.8M1771.4 743.1v24.8M1760.8 751.2h24.8M1773.2 738.8v24.8M1759.9 771.4h24.8M1772.3 759.0v24.8M1759.0 781.5h24.8M1771.4 769.1v24.8M1759.6 776.0h24.8M1772.0 763.6v24.8M1758.8 787.0h24.8M1771.2 774.6v24.8M1759.2 792.5h24.8M1771.6 780.1v24.8M1760.8 795.2h24.8M1773.2 782.8v24.8M1757.2 806.2h24.8M1769.6 793.8v24.8M1754.8 813.6h24.8M1767.2 801.2v24.8M1754.1 825.1h24.8M1766.5 812.7v24.8M1753.1 855.2h24.8M1765.5 842.8v24.8M1751.7 872.6h24.8M1764.1 860.2v24.8M1750.8 876.8h24.8M1763.2 864.4v24.8M1749.8 881.4h24.8M1762.2 869.0v24.8M1748.9 894.6h24.8M1761.3 882.2v24.8M1781.0 822.7h24.8M1793.4 810.3v24.8M1781.0 845.1h24.8M1793.4 832.7v24.8M1778.3 781.5h24.8M1790.7 769.1v24.8M1781.9 728.3h24.8M1794.3 715.9v24.8M1785.6 719.2h24.8M1798.0 706.8v24.8M1676.1 889.2h24.8M1688.5 876.8v24.8M1678.0 929.5h24.8M1690.4 917.1v24.8M1690.6 980.7h24.8M1703.0 968.3v24.8M1685.3 987.5h24.8M1697.7 975.1v24.8M1690.2 989.5h24.8M1702.6 977.1v24.8M1692.1 995.3h24.8M1704.5 982.9v24.8M1688.2 1004.1h24.8M1700.6 991.7v24.8M1689.2 985.6h24.8M1701.6 973.2v24.8M1691.1 992.4h24.8M1703.5 980.0v24.8M1693.1 1020.4h24.8M1705.5 1008.0v24.8M1694.1 1052.6h24.8M1706.5 1040.2v24.8M1695.0 1079.4h24.8M1707.4 1067.0v24.8M1696.0 1091.1h24.8M1708.4 1078.7v24.8M1698.0 1101.5h24.8M1710.4 1089.1v24.8M1699.0 1108.2h24.8M1711.4 1095.8v24.8M1699.9 1128.3h24.8M1712.3 1115.9v24.8M1700.9 1150.8h24.8M1713.3 1138.4v24.8M1701.9 1162.5h24.8M1714.3 1150.1v24.8M1728.3 1076.1h24.8M1740.7 1063.7v24.8M1726.3 1085.3h24.8M1738.7 1072.9v24.8M1724.4 1092.1h24.8M1736.8 1079.7v24.8M1723.4 1098.0h24.8M1735.8 1085.6v24.8M1722.4 1108.2h24.8M1734.8 1095.8v24.8M1721.1 1119.1h24.8M1733.5 1106.7v24.8M1720.1 1124.4h24.8M1732.5 1112.0v24.8M1719.1 1135.1h24.8M1731.5 1122.7v24.8M1717.5 1146.9h24.8M1729.9 1134.5v24.8M1715.6 1153.7h24.8M1728.0 1141.3v24.8M1714.6 1163.5h24.8M1727.0 1151.1v24.8M1711.7 1173.3h24.8M1724.1 1160.9v24.8M1736.1 1004.3h24.8M1748.5 991.9v24.8M1735.7 1010.0h24.8M1748.1 997.6v24.8M1741.0 983.6h24.8M1753.4 971.2v24.8M1741.6 976.8h24.8M1754.0 964.4v24.8M1742.9 969.5h24.8M1755.3 957.1v24.8M1743.9 950.4h24.8M1756.3 938.0v24.8M1744.9 935.3h24.8M1757.3 922.9v24.8M1746.9 922.0h24.8M1759.3 909.6v24.8M1748.2 908.3h24.8M1760.6 895.9v24.8M1749.2 894.3h24.8M1761.6 881.9v24.8M1750.4 882.3h24.8M1762.8 869.9v24.8M1802.2 898.6h24.8M1814.6 886.2v24.8M1803.2 935.3h24.8M1815.6 922.9v24.8M1804.1 975.4h24.8M1816.5 963.0v24.8M1814.3 1000.2h24.8M1826.7 987.8v24.8M1805.1 1018.4h24.8M1817.5 1006.0v24.8M1807.1 1056.3h24.8M1819.5 1043.9v24.8M1808.4 1094.5h24.8M1820.8 1082.1v24.8M1813.3 1116.6h24.8M1825.7 1104.2v24.8M1809.0 1126.3h24.8M1821.4 1113.9v24.8M1810.4 1156.2h24.8M1822.8 1143.8v24.8M1811.4 1175.2h24.8M1823.8 1162.8v24.8M1811.4 1177.2h24.8M1823.8 1164.8v24.8M1703.4 1153.2h24.8M1715.8 1140.8v24.8M1701.7 1157.4h24.8M1714.1 1145.0v24.8M1702.5 1155.1h24.8M1714.9 1142.7v24.8M1702.7 1158.9h24.8M1715.1 1146.5v24.8M1704.3 1161.3h24.8M1716.7 1148.9v24.8M1703.1 1166.1h24.8M1715.5 1153.7v24.8M1704.9 1166.7h24.8M1717.3 1154.3v24.8M1703.6 1167.1h24.8M1716.0 1154.7v24.8M1704.0 1171.3h24.8M1716.4 1158.9v24.8M1705.9 1170.9h24.8M1718.3 1158.5v24.8M1705.3 1170.5h24.8M1717.7 1158.1v24.8M1705.1 1174.4h24.8M1717.5 1162.0v24.8M1705.9 1175.2h24.8M1718.3 1162.8v24.8M1706.2 1179.6h24.8M1718.6 1167.2v24.8M1708.0 1180.6h24.8M1720.4 1168.2v24.8M1707.2 1179.9h24.8M1719.6 1167.5v24.8M1708.8 1183.2h24.8M1721.2 1170.8v24.8M1709.2 1183.7h24.8M1721.6 1171.3v24.8M1709.5 1181.3h24.8M1721.9 1168.9v24.8M1710.9 1183.3h24.8M1723.3 1170.9v24.8M1712.7 1178.5h24.8M1725.1 1166.1v24.8M1712.9 1176.5h24.8M1725.3 1164.1v24.8M1712.6 1179.0h24.8M1725.0 1166.6v24.8M1712.0 1175.0h24.8M1724.4 1162.6v24.8M1712.6 1173.1h24.8M1725.0 1160.7v24.8M1712.8 1171.0h24.8M1725.2 1158.6v24.8M1713.0 1167.3h24.8M1725.4 1154.9v24.8M1713.8 1165.7h24.8M1726.2 1153.3v24.8M1713.6 1163.0h24.8M1726.0 1150.6v24.8M1714.3 1162.1h24.8M1726.7 1149.7v24.8M1715.3 1162.2h24.8M1727.7 1149.8v24.8M1714.1 1159.2h24.8M1726.5 1146.8v24.8M1714.4 1158.1h24.8M1726.8 1145.7v24.8M1715.6 1157.9h24.8M1728.0 1145.5v24.8M1770.8 692.4h24.8M1783.2 680.0v24.8M1773.6 708.0h24.8M1786.0 695.6v24.8M1772.7 706.2h24.8M1785.1 693.8v24.8M1774.5 709.8h24.8M1786.9 697.4v24.8M1769.9 711.7h24.8M1782.3 699.3v24.8M1776.3 712.6h24.8M1788.7 700.2v24.8M1779.1 715.3h24.8M1791.5 702.9v24.8M1782.8 719.0h24.8M1795.2 706.6v24.8M1790.1 708.9h24.8M1802.5 696.5v24.8M1791.0 716.2h24.8M1803.4 703.8v24.8M1791.9 720.5h24.8M1804.3 708.1v24.8M1792.8 730.0h24.8M1805.2 717.6v24.8M1765.3 729.6h24.8M1777.7 717.2v24.8M1764.4 738.6h24.8M1776.8 726.2v24.8M1785.5 732.2h24.8M1797.9 719.8v24.8M1793.8 739.5h24.8M1806.2 727.1v24.8M1763.5 751.6h24.8M1775.9 739.2v24.8M1758.9 755.7h24.8M1771.3 743.3v24.8M1779.1 751.1h24.8M1791.5 738.7v24.8M1794.7 752.0h24.8M1807.1 739.6v24.8M1759.8 771.4h24.8M1772.2 759.0v24.8M1760.8 781.3h24.8M1773.2 768.9v24.8M1760.4 775.8h24.8M1772.8 763.4v24.8M1760.9 785.9h24.8M1773.3 773.5v24.8M1760.6 790.5h24.8M1773.0 778.1v24.8M1796.5 770.7h24.8M1808.9 758.3v24.8M1760.8 795.6h24.8M1773.2 783.2v24.8M1780.0 797.5h24.8M1792.4 785.1v24.8M1798.3 791.8h24.8M1810.7 779.4v24.8M1757.1 806.6h24.8M1769.5 794.2v24.8M1755.3 813.4h24.8M1767.7 801.0v24.8M1798.9 812.5h24.8M1811.3 800.1v24.8M1754.3 825.3h24.8M1766.7 812.9v24.8M1781.8 822.6h24.8M1794.2 810.2v24.8M1800.2 835.8h24.8M1812.6 823.4v24.8M1780.9 845.5h24.8M1793.3 833.1v24.8M1753.1 855.2h24.8M1765.5 842.8v24.8M1816.7 709.3h24.8M1829.1 696.9v24.8M1816.1 852.4h24.8M1828.5 840.0v24.8M1801.1 867.5h24.8M1813.5 855.1v24.8M1751.6 872.6h24.8M1764.0 860.2v24.8M1751.0 877.6h24.8M1763.4 865.2v24.8M1750.1 882.5h24.8M1762.5 870.1v24.8M1749.2 894.4h24.8M1761.6 882.0v24.8M1747.9 908.5h24.8M1760.3 896.1v24.8M1802.0 898.6h24.8M1814.4 886.2v24.8M1828.0 340.0h24.8M1840.4 327.6v24.8M1827.1 348.2h24.8M1839.5 335.8v24.8M1826.2 357.8h24.8M1838.6 345.4v24.8M1824.3 367.5h24.8M1836.7 355.1v24.8M1823.1 379.4h24.8M1835.5 367.0v24.8M1822.1 393.5h24.8M1834.5 381.1v24.8M1821.2 413.3h24.8M1833.6 400.9v24.8M1820.1 445.4h24.8M1832.5 433.0v24.8M1819.2 502.4h24.8M1831.6 490.0v24.8M1818.3 590.2h24.8M1830.7 577.8v24.8M1824.3 367.4h24.8M1836.7 355.0v24.8M1824.6 365.3h24.8M1837.0 352.9v24.8M1825.2 357.4h24.8M1837.6 345.0v24.8M1825.7 354.3h24.8M1838.1 341.9v24.8M1826.4 345.5h24.8M1838.8 333.1v24.8M1827.4 340.6h24.8M1839.8 328.2v24.8M1827.4 337.1h24.8M1839.8 324.7v24.8M1828.1 334.3h24.8M1840.5 321.9v24.8M1829.0 328.0h24.8M1841.4 315.6v24.8M1829.3 324.6h24.8M1841.7 312.2v24.8M1830.7 318.4h24.8M1843.1 306.0v24.8M1830.7 314.8h24.8M1843.1 302.4v24.8M1831.3 309.6h24.8M1843.7 297.2v24.8M1832.5 303.8h24.8M1844.9 291.4v24.8M1833.9 297.8h24.8M1846.3 285.4v24.8M1835.3 293.7h24.8M1847.7 281.3v24.8M1835.8 289.9h24.8M1848.2 277.5v24.8M1837.3 285.0h24.8M1849.7 272.6v24.8M1839.7 278.6h24.8M1852.1 266.2v24.8M1840.1 276.0h24.8M1852.5 263.6v24.8M1843.7 270.2h24.8M1856.1 257.8v24.8M1870.2 230.4h24.8M1882.6 218.0v24.8M1875.1 221.5h24.8M1887.5 209.1v24.8M1875.0 219.9h24.8M1887.4 207.5v24.8M1875.3 219.9h24.8M1887.7 207.5v24.8M1875.6 217.3h24.8M1888.0 204.9v24.8M1876.8 216.1h24.8M1889.2 203.7v24.8M1877.4 214.5h24.8M1889.8 202.1v24.8M1878.2 214.6h24.8M1890.6 202.2v24.8M1879.9 211.2h24.8M1892.3 198.8v24.8M1879.9 211.2h24.8M1892.3 198.8v24.8M1880.5 208.3h24.8M1892.9 195.9v24.8M1882.5 207.9h24.8M1894.9 195.5v24.8M1882.7 205.8h24.8M1895.1 193.4v24.8M1883.9 206.5h24.8M1896.3 194.1v24.8M1884.0 203.2h24.8M1896.4 190.8v24.8M1883.5 204.6h24.8M1895.9 192.2v24.8M1886.2 201.5h24.8M1898.6 189.1v24.8M1885.9 199.5h24.8M1898.3 187.1v24.8M1887.2 200.7h24.8M1899.6 188.3v24.8M1887.3 197.4h24.8M1899.7 185.0v24.8M1887.3 197.7h24.8M1899.7 185.3v24.8M1888.5 194.5h24.8M1900.9 182.1v24.8M1889.1 193.8h24.8M1901.5 181.4v24.8M1889.8 190.3h24.8M1902.2 177.9v24.8M1890.8 189.9h24.8M1903.2 177.5v24.8M1892.1 188.3h24.8M1904.5 175.9v24.8M1892.6 188.0h24.8M1905.0 175.6v24.8M1892.7 188.4h24.8M1905.1 176.0v24.8M1894.2 185.1h24.8M1906.6 172.7v24.8M1893.9 185.0h24.8M1906.3 172.6v24.8M1895.0 184.2h24.8M1907.4 171.8v24.8M1895.7 180.2h24.8M1908.1 167.8v24.8M1896.5 179.8h24.8M1908.9 167.4v24.8M1896.3 177.8h24.8M1908.7 165.4v24.8M1896.8 179.4h24.8M1909.2 167.0v24.8M1898.8 174.8h24.8M1911.2 162.4v24.8M1898.6 173.6h24.8M1911.0 161.2v24.8M1898.9 171.9h24.8M1911.3 159.5v24.8M1899.6 172.9h24.8M1912.0 160.5v24.8M1900.4 172.0h24.8M1912.8 159.6v24.8M1900.3 168.4h24.8M1912.7 156.0v24.8M1900.2 167.2h24.8M1912.6 154.8v24.8M1900.3 164.6h24.8M1912.7 152.2v24.8M1901.8 166.3h24.8M1914.2 153.9v24.8M1901.1 161.1h24.8M1913.5 148.7v24.8M1901.9 160.3h24.8M1914.3 147.9v24.8M1903.6 159.2h24.8M1916.0 146.8v24.8M1904.0 159.9h24.8M1916.4 147.5v24.8M1905.2 157.8h24.8M1917.6 145.4v24.8M1904.9 154.7h24.8M1917.3 142.3v24.8M1905.9 156.8h24.8M1918.3 144.4v24.8M1905.7 155.2h24.8M1918.1 142.8v24.8M1906.8 150.0h24.8M1919.2 137.6v24.8M1907.4 151.3h24.8M1919.8 138.9v24.8M1908.4 149.3h24.8M1920.8 136.9v24.8M1908.0 147.8h24.8M1920.4 135.4v24.8M1909.3 146.7h24.8M1921.7 134.3v24.8M1909.3 144.0h24.8M1921.7 131.6v24.8M1909.9 144.9h24.8M1922.3 132.5v24.8M1910.7 143.5h24.8M1923.1 131.1v24.8M1912.0 143.5h24.8M1924.4 131.1v24.8M1913.3 145.6h24.8M1925.7 133.2v24.8M1913.5 144.0h24.8M1925.9 131.6v24.8M1915.4 136.6h24.8M1927.8 124.2v24.8M1915.9 140.2h24.8M1928.3 127.8v24.8M1916.7 137.2h24.8M1929.1 124.8v24.8M1916.8 136.5h24.8M1929.2 124.1v24.8M1918.3 137.7h24.8M1930.7 125.3v24.8M1919.4 127.0h24.8M1931.8 114.6v24.8M1920.9 129.9h24.8M1933.3 117.5v24.8M1921.2 128.0h24.8M1933.6 115.6v24.8M1922.2 130.2h24.8M1934.6 117.8v24.8M1923.1 123.8h24.8M1935.5 111.4v24.8M1923.3 131.2h24.8M1935.7 118.8v24.8M1924.8 121.1h24.8M1937.2 108.7v24.8M1925.5 121.6h24.8M1937.9 109.2v24.8M1927.1 117.9h24.8M1939.5 105.5v24.8M1927.9 119.5h24.8M1940.3 107.1v24.8M1928.2 122.3h24.8M1940.6 109.9v24.8M1929.3 113.7h24.8M1941.7 101.3v24.8M1930.0 112.6h24.8M1942.4 100.2v24.8M1931.0 116.8h24.8M1943.4 104.4v24.8M1932.1 115.3h24.8M1944.5 102.9v24.8M1931.8 115.2h24.8M1944.2 102.8v24.8M1932.7 108.9h24.8M1945.1 96.5v24.8M1933.9 114.2h24.8M1946.3 101.8v24.8M1934.3 112.5h24.8M1946.7 100.1v24.8M1935.7 112.1h24.8M1948.1 99.7v24.8M1936.7 103.3h24.8M1949.1 90.9v24.8M1939.0 105.7h24.8M1951.4 93.3v24.8M1940.3 100.9h24.8M1952.7 88.5v24.8M1939.7 110.6h24.8M1952.1 98.2v24.8M1942.2 112.3h24.8M1954.6 99.9v24.8M1942.1 112.4h24.8M1954.5 100.0v24.8M1945.0 104.1h24.8M1957.4 91.7v24.8M1945.9 107.9h24.8M1958.3 95.5v24.8M1947.5 111.4h24.8M1959.9 99.0v24.8M1947.6 112.1h24.8M1960.0 99.7v24.8M1947.8 108.4h24.8M1960.2 96.0v24.8M1949.2 117.8h24.8M1961.6 105.4v24.8M1950.0 113.8h24.8M1962.4 101.4v24.8M1951.3 117.2h24.8M1963.7 104.8v24.8M1952.5 113.5h24.8M1964.9 101.1v24.8M1951.9 120.2h24.8M1964.3 107.8v24.8M1953.4 117.3h24.8M1965.8 104.9v24.8M1953.1 117.7h24.8M1965.5 105.3v24.8" fill="none" stroke="#D95319" stroke-width="2.5"/>
<path d="M414.5 1409.5v-19.5M414.5 60.6v19.5M592.6 1409.5v-19.5M592.6 60.6v19.5M770.8 1409.5v-19.5M770.8 60.6v19.5M948.9 1409.5v-19.5M948.9 60.6v19.5M1127.0 1409.5v-19.5M1127.0 60.6v19.5M1305.1 1409.5v-19.5M1305.1 60.6v19.5M1483.2 1409.5v-19.5M1483.2 60.6v19.5M1661.4 1409.5v-19.5M1661.4 60.6v19.5M1839.5 1409.5v-19.5M1839.5 60.6v19.5M254.6 1352.6h19.5M1990.5 1352.6h-19.5M254.6 1209.1h19.5M1990.5 1209.1h-19.5M254.6 1065.6h19.5M1990.5 1065.6h-19.5M254.6 922.1h19.5M1990.5 922.1h-19.5M254.6 778.6h19.5M1990.5 778.6h-19.5M254.6 635.1h19.5M1990.5 635.1h-19.5M254.6 491.6h19.5M1990.5 491.6h-19.5M254.6 348.1h19.5M1990.5 348.1h-19.5M254.6 204.6h19.5M1990.5 204.6h-19.5" stroke="#262626" stroke-width="4.7" fill="none"/>
<rect x="254.6" y="60.6" width="1735.9" height="1348.9" fill="none" stroke="#262626" stroke-width="4.8"/>
<g font-family="Liberation Sans, Arial, Helvetica, sans-serif" fill="#262626" font-size="64">
<text x="233" y="1375.6" text-anchor="end">225</text>
<text x="233" y="1232.1" text-anchor="end">230</text>
<text x="233" y="1088.6" text-anchor="end">235</text>
<text x="233" y="945.1" text-anchor="end">240</text>
<text x="233" y="801.6" text-anchor="end">245</text>
<text x="233" y="658.1" text-anchor="end">250</text>
<text x="233" y="514.6" text-anchor="end">255</text>
<text x="233" y="371.1" text-anchor="end">260</text>
<text x="233" y="227.6" text-anchor="end">265</text>
<text x="233" y="84.1" text-anchor="end">270</text>
<text x="413.3" y="1494" text-anchor="middle">800</text>
<text x="591.4" y="1494" text-anchor="middle">1000</text>
<text x="769.5" y="1494" text-anchor="middle">1200</text>
<text x="947.7" y="1494" text-anchor="middle">1400</text>
<text x="1125.8" y="1494" text-anchor="middle">1600</text>
<text x="1303.9" y="1494" text-anchor="middle">1800</text>
<text x="1482.0" y="1494" text-anchor="middle">2000</text>
<text x="1660.2" y="1494" text-anchor="middle">2200</text>
<text x="1838.3" y="1494" text-anchor="middle">2400</text>
</g>
<g font-family="Liberation Sans, Arial, Helvetica, sans-serif" fill="#262626" font-size="70.5">
<text x="808" y="1602">Wavenumber <tspan font-size="80" dy="6.5" dx="-1.5">(</tspan><tspan dy="-6.5" dx="-1.5">cm</tspan><tspan font-size="45" dy="-33" dx="1">-1</tspan><tspan font-size="80" dy="39.5" dx="11">)</tspan></text>
<text transform="translate(98,730) rotate(-90)" text-anchor="middle">B(T) in K</text>
</g>
<rect x="934.3" y="132.5" width="628.2" height="136" fill="#fff" stroke="#262626" stroke-width="4.5"/>
<path d="M950 170.3H1071" stroke="#0072BD" stroke-width="2.6"/>
<path d="M997.7 231.2h25M1010.2 218.7v25" stroke="#D95319" stroke-width="2.6"/>
<g font-family="Liberation Sans, Arial, Helvetica, sans-serif" fill="#000" font-size="48">
<text x="1083" y="187">All Chans</text>
<text x="1083" y="248.5">0 &lt; Synth Frac &lt; 0.02</text>
</g>
</svg>
</body></html>
